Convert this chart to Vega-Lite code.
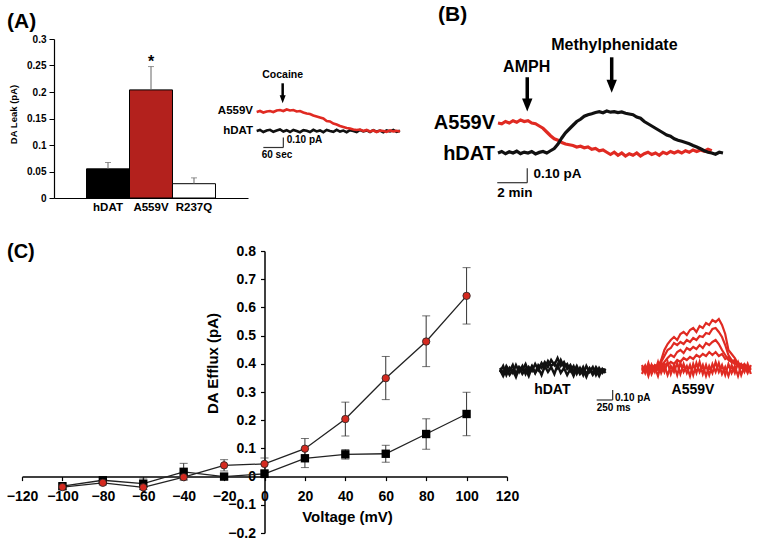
{
  "$schema": "https://vega.github.io/schema/vega-lite/v6.json",
  "autosize": {"type": "none"},
  "padding": {"left": 22, "top": 39, "right": 739, "bottom": 513},
  "background": "white",
  "bounds": "flush",
  "spacing": 212,
  "datasets": {
    "leak": [
      {"strain": "hDAT", "leak": 0.055, "hi": 0.067},
      {"strain": "A559V", "leak": 0.204, "hi": 0.248},
      {"strain": "R237Q", "leak": 0.027, "hi": 0.038}
    ],
    "a2k": [
      {"t":0,"v":0.0},{"t":10,"v":0.01},{"t":20,"v":-0.01},{"t":30,"v":0.005},{"t":40,"v":0.012},{"t":50,"v":-0.008},{"t":60,"v":0.004},{"t":70,"v":0.015},{"t":80,"v":-0.005},{"t":90,"v":0.008},
      {"t":100,"v":-0.01},{"t":110,"v":0.01},{"t":120,"v":0.0},{"t":130,"v":-0.012},{"t":140,"v":0.008},{"t":150,"v":0.002},{"t":160,"v":-0.01},{"t":170,"v":0.012},{"t":180,"v":-0.004},{"t":190,"v":0.006},
      {"t":200,"v":-0.012},{"t":210,"v":0.01},{"t":220,"v":0.0},{"t":230,"v":-0.008},{"t":240,"v":0.012},{"t":250,"v":-0.006},{"t":260,"v":0.004},{"t":270,"v":-0.012},{"t":280,"v":0.008},{"t":290,"v":0.0},
      {"t":300,"v":-0.01},{"t":310,"v":0.01},{"t":320,"v":-0.004},{"t":330,"v":0.006},{"t":340,"v":-0.01},{"t":350,"v":0.008},{"t":360,"v":-0.006},{"t":370,"v":0.004},{"t":380,"v":-0.012},{"t":390,"v":0.006},
      {"t":400,"v":-0.004},{"t":410,"v":0.01},{"t":420,"v":-0.008},{"t":430,"v":0.002}
    ],
    "a2r": [
      {"t":0,"v":0.19},{"t":10,"v":0.2},{"t":20,"v":0.185},{"t":30,"v":0.195},{"t":40,"v":0.2},{"t":50,"v":0.19},{"t":60,"v":0.205},{"t":70,"v":0.21},{"t":80,"v":0.2},{"t":90,"v":0.215},
      {"t":100,"v":0.205},{"t":110,"v":0.21},{"t":120,"v":0.195},{"t":130,"v":0.2},{"t":140,"v":0.185},{"t":150,"v":0.175},{"t":160,"v":0.17},{"t":170,"v":0.155},{"t":180,"v":0.145},{"t":190,"v":0.135},
      {"t":200,"v":0.125},{"t":210,"v":0.1},{"t":220,"v":0.095},{"t":230,"v":0.075},{"t":240,"v":0.065},{"t":250,"v":0.05},{"t":260,"v":0.04},{"t":270,"v":0.03},{"t":280,"v":0.025},{"t":290,"v":0.015},
      {"t":300,"v":0.01},{"t":310,"v":0.015},{"t":320,"v":0.0},{"t":330,"v":0.01},{"t":340,"v":-0.005},{"t":350,"v":0.005},{"t":360,"v":-0.01},{"t":370,"v":0.005},{"t":380,"v":0.0},{"t":390,"v":-0.008},
      {"t":400,"v":0.006},{"t":410,"v":-0.004},{"t":420,"v":0.002},{"t":430,"v":-0.006}
    ],
    "a2bar": [
      {"t":20,"t2":80,"v":-0.165,"v2":-0.165},
      {"t":80,"t2":80,"v":-0.165,"v2":-0.065}
    ],
    "a2arrow": [{"t":78,"v":0.477,"v2":0.317}],
    "a2txt": [
      {"t":-11,"v":0.2,"txt":"A559V","role":"label"},
      {"t":-11,"v":0.0,"txt":"hDAT","role":"label"},
      {"t":78,"v":0.56,"txt":"Cocaine","role":"drug"},
      {"t":90,"v":-0.09,"txt":"0.10 pA","role":"scale"},
      {"t":15,"v":-0.24,"txt":"60 sec","role":"scale"}
    ],
    "bk": [
      {"t":0,"v":0.0},{"t":0.25,"v":0.01},{"t":0.5,"v":-0.005},{"t":0.75,"v":0.008},{"t":1.0,"v":0.0},{"t":1.25,"v":0.012},{"t":1.5,"v":-0.004},{"t":1.75,"v":0.006},
      {"t":2.0,"v":0.0},{"t":2.25,"v":0.01},{"t":2.5,"v":-0.006},{"t":2.75,"v":0.004},{"t":3.0,"v":0.01},{"t":3.25,"v":0.0},{"t":3.5,"v":0.015},{"t":3.75,"v":0.03},
      {"t":4.0,"v":0.06},{"t":4.25,"v":0.1},{"t":4.5,"v":0.135},{"t":4.75,"v":0.16},{"t":5.0,"v":0.185},{"t":5.25,"v":0.21},{"t":5.5,"v":0.225},{"t":5.75,"v":0.245},
      {"t":6.0,"v":0.255},{"t":6.25,"v":0.262},{"t":6.5,"v":0.27},{"t":6.75,"v":0.275},{"t":7.0,"v":0.268},{"t":7.25,"v":0.28},{"t":7.5,"v":0.272},{"t":7.75,"v":0.276},
      {"t":8.0,"v":0.27},{"t":8.25,"v":0.274},{"t":8.5,"v":0.265},{"t":8.75,"v":0.26},{"t":9.0,"v":0.255},{"t":9.25,"v":0.24},{"t":9.5,"v":0.232},{"t":9.75,"v":0.21},
      {"t":10.0,"v":0.195},{"t":10.25,"v":0.18},{"t":10.5,"v":0.165},{"t":10.75,"v":0.15},{"t":11.0,"v":0.135},{"t":11.25,"v":0.12},{"t":11.5,"v":0.112},{"t":11.75,"v":0.095},
      {"t":12.0,"v":0.085},{"t":12.25,"v":0.078},{"t":12.5,"v":0.07},{"t":12.75,"v":0.062},{"t":13.0,"v":0.05},{"t":13.25,"v":0.04},{"t":13.5,"v":0.028},{"t":13.75,"v":0.015},
      {"t":14.0,"v":0.005},{"t":14.25,"v":0.0},{"t":14.5,"v":-0.008},{"t":14.75,"v":0.005},{"t":15.0,"v":0.0}
    ],
    "br": [
      {"t":0,"v":0.2},{"t":0.25,"v":0.195},{"t":0.5,"v":0.21},{"t":0.75,"v":0.2},{"t":1.0,"v":0.215},{"t":1.25,"v":0.205},{"t":1.5,"v":0.22},{"t":1.75,"v":0.21},
      {"t":2.0,"v":0.215},{"t":2.25,"v":0.2},{"t":2.5,"v":0.195},{"t":2.75,"v":0.18},{"t":3.0,"v":0.165},{"t":3.25,"v":0.14},{"t":3.5,"v":0.115},{"t":3.75,"v":0.095},
      {"t":4.0,"v":0.085},{"t":4.25,"v":0.07},{"t":4.5,"v":0.06},{"t":4.75,"v":0.055},{"t":5.0,"v":0.05},{"t":5.25,"v":0.04},{"t":5.5,"v":0.045},{"t":5.75,"v":0.035},
      {"t":6.0,"v":0.04},{"t":6.25,"v":0.025},{"t":6.5,"v":0.03},{"t":6.75,"v":0.015},{"t":7.0,"v":0.02},{"t":7.25,"v":0.005},{"t":7.5,"v":-0.01},{"t":7.75,"v":0.005},
      {"t":8.0,"v":-0.015},{"t":8.25,"v":0.0},{"t":8.5,"v":-0.02},{"t":8.75,"v":-0.005},{"t":9.0,"v":-0.015},{"t":9.25,"v":0.0},{"t":9.5,"v":-0.02},{"t":9.75,"v":-0.005},
      {"t":10.0,"v":0.005},{"t":10.25,"v":-0.01},{"t":10.5,"v":0.0},{"t":10.75,"v":-0.015},{"t":11.0,"v":0.005},{"t":11.25,"v":-0.005},{"t":11.5,"v":0.01},{"t":11.75,"v":0.0},
      {"t":12.0,"v":0.012},{"t":12.25,"v":0.0},{"t":12.5,"v":0.015},{"t":12.75,"v":0.005},{"t":13.0,"v":0.02},{"t":13.25,"v":0.01},{"t":13.5,"v":0.02},{"t":13.75,"v":0.012},
      {"t":14.0,"v":0.025},{"t":14.25,"v":0.015}
    ],
    "bbar": [
      {"t":-0.05,"t2":1.95,"v":-0.198,"v2":-0.198},
      {"t":1.95,"t2":1.95,"v":-0.198,"v2":-0.102}
    ],
    "barrow": [
      {"t":1.95,"v":0.505,"v2":0.32},
      {"t":7.58,"v":0.638,"v2":0.445}
    ],
    "btxt": [
      {"t":-0.2,"v":0.198,"txt":"A559V","role":"label"},
      {"t":-0.2,"v":-0.007,"txt":"hDAT","role":"label"},
      {"t":1.91,"v":0.575,"txt":"AMPH","role":"drug"},
      {"t":7.76,"v":0.72,"txt":"Methylphenidate","role":"drug"},
      {"t":2.36,"v":-0.14,"txt":"0.10 pA","role":"scale"},
      {"t":-0.05,"v":-0.265,"txt":"2 min","role":"scale"}
    ],
    "iv": [
      {"strain":"hDAT","mV":-100,"mean":-0.034,"lo":-0.044,"hi":-0.024},
      {"strain":"hDAT","mV":-80,"mean":-0.013,"lo":-0.023,"hi":-0.003},
      {"strain":"hDAT","mV":-60,"mean":-0.025,"lo":-0.045,"hi":-0.005},
      {"strain":"hDAT","mV":-40,"mean":0.017,"lo":-0.013,"hi":0.047},
      {"strain":"hDAT","mV":-20,"mean":0.0,"lo":-0.01,"hi":0.01},
      {"strain":"hDAT","mV":0,"mean":0.01,"lo":0.0,"hi":0.02},
      {"strain":"hDAT","mV":20,"mean":0.065,"lo":0.032,"hi":0.098},
      {"strain":"hDAT","mV":40,"mean":0.079,"lo":0.062,"hi":0.096},
      {"strain":"hDAT","mV":60,"mean":0.081,"lo":0.051,"hi":0.111},
      {"strain":"hDAT","mV":80,"mean":0.151,"lo":0.097,"hi":0.205},
      {"strain":"hDAT","mV":100,"mean":0.222,"lo":0.145,"hi":0.299},
      {"strain":"A559V","mV":-100,"mean":-0.037,"lo":-0.045,"hi":-0.029},
      {"strain":"A559V","mV":-80,"mean":-0.022,"lo":-0.03,"hi":-0.014},
      {"strain":"A559V","mV":-60,"mean":-0.038,"lo":-0.046,"hi":-0.03},
      {"strain":"A559V","mV":-40,"mean":-0.002,"lo":-0.01,"hi":0.006},
      {"strain":"A559V","mV":-20,"mean":0.04,"lo":0.02,"hi":0.06},
      {"strain":"A559V","mV":0,"mean":0.045,"lo":0.025,"hi":0.066},
      {"strain":"A559V","mV":20,"mean":0.099,"lo":0.063,"hi":0.135},
      {"strain":"A559V","mV":40,"mean":0.204,"lo":0.144,"hi":0.264},
      {"strain":"A559V","mV":60,"mean":0.349,"lo":0.273,"hi":0.426},
      {"strain":"A559V","mV":80,"mean":0.479,"lo":0.39,"hi":0.57},
      {"strain":"A559V","mV":100,"mean":0.641,"lo":0.541,"hi":0.741}
    ],
    "ih": [
      {"s":1,"t":0,"v":0.02},{"s":1,"t":50,"v":-0.03},{"s":1,"t":100,"v":0.04},{"s":1,"t":150,"v":-0.01},{"s":1,"t":200,"v":0.05},{"s":1,"t":250,"v":-0.04},{"s":1,"t":300,"v":0.03},{"s":1,"t":350,"v":0.0},{"s":1,"t":400,"v":0.06},{"s":1,"t":450,"v":-0.02},
      {"s":1,"t":500,"v":0.04},{"s":1,"t":550,"v":-0.03},{"s":1,"t":600,"v":0.05},{"s":1,"t":650,"v":0.02},{"s":1,"t":700,"v":0.08},{"s":1,"t":750,"v":0.03},{"s":1,"t":800,"v":0.1},{"s":1,"t":850,"v":0.05},{"s":1,"t":900,"v":0.12},{"s":1,"t":950,"v":0.04},
      {"s":1,"t":1000,"v":0.08},{"s":1,"t":1050,"v":0.01},{"s":1,"t":1100,"v":0.05},{"s":1,"t":1150,"v":-0.02},{"s":1,"t":1200,"v":0.04},{"s":1,"t":1250,"v":-0.03},{"s":1,"t":1300,"v":0.03},{"s":1,"t":1350,"v":-0.04},{"s":1,"t":1400,"v":0.02},{"s":1,"t":1450,"v":-0.03},
      {"s":1,"t":1500,"v":0.03},{"s":1,"t":1550,"v":-0.02},{"s":1,"t":1600,"v":0.01},{"s":1,"t":1650,"v":0.0},
      {"s":2,"t":0,"v":-0.02},{"s":2,"t":50,"v":0.04},{"s":2,"t":100,"v":-0.05},{"s":2,"t":150,"v":0.02},{"s":2,"t":200,"v":-0.03},{"s":2,"t":250,"v":0.05},{"s":2,"t":300,"v":-0.02},{"s":2,"t":350,"v":0.04},{"s":2,"t":400,"v":-0.04},{"s":2,"t":450,"v":0.03},
      {"s":2,"t":500,"v":-0.01},{"s":2,"t":550,"v":0.06},{"s":2,"t":600,"v":0.0},{"s":2,"t":650,"v":0.07},{"s":2,"t":700,"v":0.02},{"s":2,"t":750,"v":0.09},{"s":2,"t":800,"v":0.04},{"s":2,"t":850,"v":0.07},{"s":2,"t":900,"v":0.02},{"s":2,"t":950,"v":0.1},
      {"s":2,"t":1000,"v":0.03},{"s":2,"t":1050,"v":0.06},{"s":2,"t":1100,"v":-0.01},{"s":2,"t":1150,"v":0.04},{"s":2,"t":1200,"v":-0.04},{"s":2,"t":1250,"v":0.02},{"s":2,"t":1300,"v":-0.05},{"s":2,"t":1350,"v":0.04},{"s":2,"t":1400,"v":-0.02},{"s":2,"t":1450,"v":0.03},
      {"s":2,"t":1500,"v":-0.05},{"s":2,"t":1550,"v":0.02},{"s":2,"t":1600,"v":-0.03},{"s":2,"t":1650,"v":0.01},
      {"s":3,"t":0,"v":0.0},{"s":3,"t":50,"v":-0.06},{"s":3,"t":100,"v":0.01},{"s":3,"t":150,"v":-0.05},{"s":3,"t":200,"v":0.0},{"s":3,"t":250,"v":-0.07},{"s":3,"t":300,"v":0.02},{"s":3,"t":350,"v":-0.04},{"s":3,"t":400,"v":0.01},{"s":3,"t":450,"v":-0.06},
      {"s":3,"t":500,"v":0.03},{"s":3,"t":550,"v":-0.03},{"s":3,"t":600,"v":0.02},{"s":3,"t":650,"v":-0.05},{"s":3,"t":700,"v":0.04},{"s":3,"t":750,"v":-0.02},{"s":3,"t":800,"v":0.03},{"s":3,"t":850,"v":-0.04},{"s":3,"t":900,"v":0.05},{"s":3,"t":950,"v":-0.03},
      {"s":3,"t":1000,"v":0.02},{"s":3,"t":1050,"v":-0.05},{"s":3,"t":1100,"v":0.01},{"s":3,"t":1150,"v":-0.06},{"s":3,"t":1200,"v":0.02},{"s":3,"t":1250,"v":-0.04},{"s":3,"t":1300,"v":0.0},{"s":3,"t":1350,"v":-0.07},{"s":3,"t":1400,"v":0.01},{"s":3,"t":1450,"v":-0.05},
      {"s":3,"t":1500,"v":0.0},{"s":3,"t":1550,"v":-0.06},{"s":3,"t":1600,"v":0.01},{"s":3,"t":1650,"v":-0.03}
    ],
    "ia": [
      {"s":1,"t":0,"v":0.02},{"s":1,"t":50,"v":-0.02},{"s":1,"t":100,"v":0.04},{"s":1,"t":150,"v":0.0},{"s":1,"t":200,"v":0.05},{"s":1,"t":250,"v":0.03},{"s":1,"t":300,"v":0.1},{"s":1,"t":350,"v":0.2},{"s":1,"t":400,"v":0.26},{"s":1,"t":450,"v":0.3},
      {"s":1,"t":500,"v":0.33},{"s":1,"t":550,"v":0.3},{"s":1,"t":600,"v":0.36},{"s":1,"t":650,"v":0.38},{"s":1,"t":700,"v":0.35},{"s":1,"t":750,"v":0.4},{"s":1,"t":800,"v":0.42},{"s":1,"t":850,"v":0.38},{"s":1,"t":900,"v":0.44},{"s":1,"t":950,"v":0.42},
      {"s":1,"t":1000,"v":0.47},{"s":1,"t":1050,"v":0.45},{"s":1,"t":1100,"v":0.5},{"s":1,"t":1150,"v":0.48},{"s":1,"t":1200,"v":0.51},{"s":1,"t":1250,"v":0.45},{"s":1,"t":1300,"v":0.36},{"s":1,"t":1350,"v":0.2},{"s":1,"t":1400,"v":0.16},{"s":1,"t":1450,"v":0.12},
      {"s":1,"t":1500,"v":0.06},{"s":1,"t":1550,"v":0.02},{"s":1,"t":1600,"v":0.05},{"s":1,"t":1650,"v":0.0},{"s":1,"t":1700,"v":0.02},
      {"s":2,"t":0,"v":-0.01},{"s":2,"t":50,"v":0.03},{"s":2,"t":100,"v":0.0},{"s":2,"t":150,"v":0.04},{"s":2,"t":200,"v":0.02},{"s":2,"t":250,"v":0.05},{"s":2,"t":300,"v":0.08},{"s":2,"t":350,"v":0.14},{"s":2,"t":400,"v":0.2},{"s":2,"t":450,"v":0.22},
      {"s":2,"t":500,"v":0.27},{"s":2,"t":550,"v":0.25},{"s":2,"t":600,"v":0.28},{"s":2,"t":650,"v":0.26},{"s":2,"t":700,"v":0.3},{"s":2,"t":750,"v":0.28},{"s":2,"t":800,"v":0.32},{"s":2,"t":850,"v":0.3},{"s":2,"t":900,"v":0.34},{"s":2,"t":950,"v":0.33},
      {"s":2,"t":1000,"v":0.37},{"s":2,"t":1050,"v":0.36},{"s":2,"t":1100,"v":0.41},{"s":2,"t":1150,"v":0.42},{"s":2,"t":1200,"v":0.38},{"s":2,"t":1250,"v":0.33},{"s":2,"t":1300,"v":0.25},{"s":2,"t":1350,"v":0.15},{"s":2,"t":1400,"v":0.1},{"s":2,"t":1450,"v":0.08},
      {"s":2,"t":1500,"v":0.04},{"s":2,"t":1550,"v":0.06},{"s":2,"t":1600,"v":0.02},{"s":2,"t":1650,"v":0.04},{"s":2,"t":1700,"v":0.0},
      {"s":3,"t":0,"v":0.03},{"s":3,"t":50,"v":-0.01},{"s":3,"t":100,"v":0.05},{"s":3,"t":150,"v":0.01},{"s":3,"t":200,"v":0.04},{"s":3,"t":250,"v":0.0},{"s":3,"t":300,"v":0.05},{"s":3,"t":350,"v":0.08},{"s":3,"t":400,"v":0.12},{"s":3,"t":450,"v":0.15},
      {"s":3,"t":500,"v":0.13},{"s":3,"t":550,"v":0.18},{"s":3,"t":600,"v":0.2},{"s":3,"t":650,"v":0.17},{"s":3,"t":700,"v":0.22},{"s":3,"t":750,"v":0.2},{"s":3,"t":800,"v":0.23},{"s":3,"t":850,"v":0.21},{"s":3,"t":900,"v":0.25},{"s":3,"t":950,"v":0.22},
      {"s":3,"t":1000,"v":0.27},{"s":3,"t":1050,"v":0.25},{"s":3,"t":1100,"v":0.28},{"s":3,"t":1150,"v":0.3},{"s":3,"t":1200,"v":0.26},{"s":3,"t":1250,"v":0.2},{"s":3,"t":1300,"v":0.15},{"s":3,"t":1350,"v":0.1},{"s":3,"t":1400,"v":0.08},{"s":3,"t":1450,"v":0.1},
      {"s":3,"t":1500,"v":0.05},{"s":3,"t":1550,"v":0.03},{"s":3,"t":1600,"v":0.06},{"s":3,"t":1650,"v":0.01},{"s":3,"t":1700,"v":0.03},
      {"s":4,"t":0,"v":0.0},{"s":4,"t":50,"v":0.04},{"s":4,"t":100,"v":-0.01},{"s":4,"t":150,"v":0.05},{"s":4,"t":200,"v":0.02},{"s":4,"t":250,"v":0.04},{"s":4,"t":300,"v":0.01},{"s":4,"t":350,"v":0.06},{"s":4,"t":400,"v":0.05},{"s":4,"t":450,"v":0.08},
      {"s":4,"t":500,"v":0.06},{"s":4,"t":550,"v":0.1},{"s":4,"t":600,"v":0.08},{"s":4,"t":650,"v":0.12},{"s":4,"t":700,"v":0.1},{"s":4,"t":750,"v":0.13},{"s":4,"t":800,"v":0.11},{"s":4,"t":850,"v":0.15},{"s":4,"t":900,"v":0.13},{"s":4,"t":950,"v":0.16},
      {"s":4,"t":1000,"v":0.14},{"s":4,"t":1050,"v":0.18},{"s":4,"t":1100,"v":0.15},{"s":4,"t":1150,"v":0.18},{"s":4,"t":1200,"v":0.14},{"s":4,"t":1250,"v":0.16},{"s":4,"t":1300,"v":0.11},{"s":4,"t":1350,"v":0.13},{"s":4,"t":1400,"v":0.08},{"s":4,"t":1450,"v":0.06},
      {"s":4,"t":1500,"v":0.08},{"s":4,"t":1550,"v":0.03},{"s":4,"t":1600,"v":0.05},{"s":4,"t":1650,"v":0.0},{"s":4,"t":1700,"v":0.02},
      {"s":5,"t":0,"v":0.05},{"s":5,"t":50,"v":-0.03},{"s":5,"t":100,"v":0.07},{"s":5,"t":150,"v":-0.04},{"s":5,"t":200,"v":0.03},{"s":5,"t":250,"v":-0.06},{"s":5,"t":300,"v":0.06},{"s":5,"t":350,"v":-0.02},{"s":5,"t":400,"v":0.08},{"s":5,"t":450,"v":-0.04},
      {"s":5,"t":500,"v":0.05},{"s":5,"t":550,"v":-0.05},{"s":5,"t":600,"v":0.07},{"s":5,"t":650,"v":-0.02},{"s":5,"t":700,"v":0.04},{"s":5,"t":750,"v":-0.06},{"s":5,"t":800,"v":0.06},{"s":5,"t":850,"v":-0.03},{"s":5,"t":900,"v":0.08},{"s":5,"t":950,"v":-0.04},
      {"s":5,"t":1000,"v":0.05},{"s":5,"t":1050,"v":-0.05},{"s":5,"t":1100,"v":0.06},{"s":5,"t":1150,"v":-0.02},{"s":5,"t":1200,"v":0.07},{"s":5,"t":1250,"v":-0.04},{"s":5,"t":1300,"v":0.03},{"s":5,"t":1350,"v":-0.06},{"s":5,"t":1400,"v":0.05},{"s":5,"t":1450,"v":-0.03},
      {"s":5,"t":1500,"v":0.07},{"s":5,"t":1550,"v":-0.05},{"s":5,"t":1600,"v":0.04},{"s":5,"t":1650,"v":-0.03},{"s":5,"t":1700,"v":0.05},
      {"s":6,"t":0,"v":-0.04},{"s":6,"t":50,"v":0.04},{"s":6,"t":100,"v":-0.06},{"s":6,"t":150,"v":0.05},{"s":6,"t":200,"v":-0.02},{"s":6,"t":250,"v":0.08},{"s":6,"t":300,"v":-0.03},{"s":6,"t":350,"v":0.05},{"s":6,"t":400,"v":-0.05},{"s":6,"t":450,"v":0.04},
      {"s":6,"t":500,"v":-0.02},{"s":6,"t":550,"v":0.07},{"s":6,"t":600,"v":-0.04},{"s":6,"t":650,"v":0.06},{"s":6,"t":700,"v":-0.03},{"s":6,"t":750,"v":0.05},{"s":6,"t":800,"v":-0.05},{"s":6,"t":850,"v":0.07},{"s":6,"t":900,"v":-0.02},{"s":6,"t":950,"v":0.05},
      {"s":6,"t":1000,"v":-0.06},{"s":6,"t":1050,"v":0.04},{"s":6,"t":1100,"v":-0.03},{"s":6,"t":1150,"v":0.08},{"s":6,"t":1200,"v":-0.02},{"s":6,"t":1250,"v":0.05},{"s":6,"t":1300,"v":-0.05},{"s":6,"t":1350,"v":0.06},{"s":6,"t":1400,"v":-0.03},{"s":6,"t":1450,"v":0.04},
      {"s":6,"t":1500,"v":-0.06},{"s":6,"t":1550,"v":0.05},{"s":6,"t":1600,"v":-0.02},{"s":6,"t":1650,"v":0.06},{"s":6,"t":1700,"v":-0.04}
    ],
    "ihbar": [
      {"t":1511,"t2":1761,"v":-0.3,"v2":-0.3},
      {"t":1761,"t2":1761,"v":-0.3,"v2":-0.2}
    ],
    "ihtxt": [
      {"t":818,"v":-0.2,"txt":"hDAT","role":"label"},
      {"t":1797,"v":-0.277,"txt":"0.10 pA","role":"scale"},
      {"t":1511,"v":-0.383,"txt":"250 ms","role":"scale"}
    ],
    "iatxt": [
      {"t":797,"v":-0.2,"txt":"A559V","role":"label"}
    ]
  },
  "vconcat": [
    {
      "hconcat": [
        {
          "width": 32, "height": 159,
          "title": {"text": "(A)", "fontSize": 21, "dx": -15, "offset": 7},
          "data": {"values": [{"s": ""}]},
          "mark": {"type": "text"},
          "encoding": {"text": {"field": "s"}}
        },
        {
          "width": 194, "height": 159,
          "data": {"name": "leak"},
          "encoding": {
            "x": {"field": "strain", "type": "nominal", "sort": null,
              "scale": {"paddingInner": 0, "paddingOuter": 0.756, "align": 0.5},
              "axis": {"title": null, "labelAngle": 0, "ticks": false, "tickSize": 0, "labelPadding": 3, "labelFontSize": 11.5, "domainWidth": 1.2}},
            "y": {"field": "leak", "type": "quantitative",
              "scale": {"domain": [0, 0.3], "nice": false, "zero": false},
              "axis": {"values": [0, 0.05, 0.1, 0.15, 0.2, 0.25, 0.3], "format": "~g", "labelFontSize": 10, "tickSize": 5, "labelPadding": 3,
                "title": "DA Leak (pA)", "titleFontSize": 9.5, "titleX": -41, "titleY": 75, "titleBaseline": "middle", "titleAlign": "center", "titleAngle": 270, "domainWidth": 1.2}}
          },
          "layer": [
            {"mark": {"type": "bar", "stroke": "#000", "strokeWidth": 1},
              "encoding": {"fill": {"field": "strain", "type": "nominal", "scale": {"domain": ["hDAT", "A559V", "R237Q"], "range": ["#000000", "#b3211d", "#ffffff"]}, "legend": null}}},
            {"mark": {"type": "rule", "color": "#666", "strokeWidth": 1},
              "encoding": {"y2": {"field": "hi"}}},
            {"mark": {"type": "tick", "color": "#666", "size": 6, "thickness": 1},
              "encoding": {"y": {"field": "hi", "type": "quantitative", "scale": {"domain": [0, 0.3], "nice": false, "zero": false}}}},
            {"transform": [{"filter": "datum.strain === 'A559V'"}],
              "mark": {"type": "text", "text": "*", "fontSize": 16, "baseline": "middle"},
              "encoding": {"y": {"datum": 0.257, "type": "quantitative", "scale": {"domain": [0, 0.3], "nice": false, "zero": false}}}}
          ]
        },
        {
          "width": 175, "height": 159,
          "encoding": {
            "x": {"field": "t", "type": "quantitative", "scale": {"domain": [-26, 499], "nice": false, "zero": false}, "axis": null},
            "y": {"field": "v", "type": "quantitative", "scale": {"domain": [-0.67, 0.92], "nice": false, "zero": false}, "axis": null}
          },
          "layer": [
            {"data": {"name": "a2k"}, "mark": {"type": "line", "color": "#111", "strokeWidth": 2.6}},
            {"data": {"name": "a2r"}, "mark": {"type": "line", "color": "#e02a22", "strokeWidth": 2.6}},
            {"data": {"name": "a2bar"}, "mark": {"type": "rule", "color": "#333", "strokeWidth": 1.2},
              "encoding": {"x2": {"field": "t2"}, "y2": {"field": "v2"}}},
            {"data": {"name": "a2arrow"}, "mark": {"type": "rule", "color": "#000", "strokeWidth": 2.5},
              "encoding": {"y2": {"field": "v2"}}},
            {"data": {"name": "a2arrow"}, "mark": {"type": "point", "shape": "M -0.75 -1 L 0.75 -1 L 0 1 Z", "size": 64, "filled": true, "color": "#000", "opacity": 1},
              "encoding": {"y": {"field": "v2", "type": "quantitative", "scale": {"domain": [-0.67, 0.92], "nice": false, "zero": false}, "axis": null}}},
            {"data": {"name": "a2txt"}, "transform": [{"filter": "datum.role === 'label'"}],
              "mark": {"type": "text", "align": "right", "baseline": "middle", "fontSize": 11.5}, "encoding": {"text": {"field": "txt"}}},
            {"data": {"name": "a2txt"}, "transform": [{"filter": "datum.role === 'drug'"}],
              "mark": {"type": "text", "align": "center", "baseline": "middle", "fontSize": 10.5}, "encoding": {"text": {"field": "txt"}}},
            {"data": {"name": "a2txt"}, "transform": [{"filter": "datum.role === 'scale'"}],
              "mark": {"type": "text", "align": "left", "baseline": "middle", "fontSize": 10}, "encoding": {"text": {"field": "txt"}}}
          ]
        },
        {
          "width": 315, "height": 159,
          "title": {"text": "(B)", "fontSize": 21, "dx": 15, "offset": 12},
          "encoding": {
            "x": {"field": "t", "type": "quantitative", "scale": {"domain": [-5, 16], "nice": false, "zero": false}, "axis": null},
            "y": {"field": "v", "type": "quantitative", "scale": {"domain": [-0.3, 0.76], "nice": false, "zero": false}, "axis": null}
          },
          "layer": [
            {"data": {"name": "br"}, "mark": {"type": "line", "color": "#e02a22", "strokeWidth": 3.2}},
            {"data": {"name": "bk"}, "mark": {"type": "line", "color": "#111", "strokeWidth": 3.2}},
            {"data": {"name": "bbar"}, "mark": {"type": "rule", "color": "#333", "strokeWidth": 1.2},
              "encoding": {"x2": {"field": "t2"}, "y2": {"field": "v2"}}},
            {"data": {"name": "barrow"}, "mark": {"type": "rule", "color": "#000", "strokeWidth": 3.5},
              "encoding": {"y2": {"field": "v2"}}},
            {"data": {"name": "barrow"}, "mark": {"type": "point", "shape": "M -0.8 -1 L 0.8 -1 L 0 1 Z", "size": 169, "filled": true, "color": "#000", "opacity": 1},
              "encoding": {"y": {"field": "v2", "type": "quantitative", "scale": {"domain": [-0.3, 0.76], "nice": false, "zero": false}, "axis": null}}},
            {"data": {"name": "btxt"}, "transform": [{"filter": "datum.role === 'label'"}],
              "mark": {"type": "text", "align": "right", "baseline": "middle", "fontSize": 20}, "encoding": {"text": {"field": "txt"}}},
            {"data": {"name": "btxt"}, "transform": [{"filter": "datum.role === 'drug'"}],
              "mark": {"type": "text", "align": "center", "baseline": "middle", "fontSize": 16}, "encoding": {"text": {"field": "txt"}}},
            {"data": {"name": "btxt"}, "transform": [{"filter": "datum.role === 'scale'"}],
              "mark": {"type": "text", "align": "left", "baseline": "middle", "fontSize": 13.5}, "encoding": {"text": {"field": "txt"}}}
          ]
        }
      ],
      "bounds": "flush",
      "spacing": 0
    },
    {
      "hconcat": [
        {
          "width": 485, "height": 282,
          "title": {"text": "(C)", "fontSize": 20, "dx": -15, "offset": -18},
          "data": {"name": "iv"},
          "encoding": {
            "x": {"field": "mV", "type": "quantitative", "scale": {"domain": [-120, 120], "nice": false, "zero": false},
              "axis": {"values": [-120, -100, -80, -60, -40, -20, 0, 20, 40, 60, 80, 100, 120], "offset": -56.4, "tickSize": 4, "labelPadding": 9, "labelFontSize": 14, "domainWidth": 1.5, "tickWidth": 1.2,
                "title": "Voltage (mV)", "titleFontSize": 15, "titleX": 325, "titleY": 40, "titleBaseline": "middle", "titleAlign": "center"}},
            "y": {"field": "mean", "type": "quantitative", "scale": {"domain": [-0.2, 0.8], "nice": false, "zero": false},
              "axis": {"values": [-0.2, -0.1, 0, 0.1, 0.2, 0.3, 0.4, 0.5, 0.6, 0.7, 0.8], "format": "~g", "offset": -242.5, "tickSize": 4, "labelPadding": 5, "labelFontSize": 14, "domainWidth": 1.5, "tickWidth": 1.2,
                "title": "DA Efflux (pA)", "titleFontSize": 15, "titleX": -52.5, "titleY": 112, "titleAngle": 270, "titleBaseline": "middle", "titleAlign": "center"}}
          },
          "layer": [
            {"mark": {"type": "rule", "color": "#333", "strokeWidth": 1},
              "encoding": {"y": {"field": "lo", "type": "quantitative", "scale": {"domain": [-0.2, 0.8], "nice": false, "zero": false}}, "y2": {"field": "hi"}}},
            {"mark": {"type": "tick", "orient": "horizontal", "color": "#333", "size": 8, "thickness": 1},
              "encoding": {"y": {"field": "hi", "type": "quantitative", "scale": {"domain": [-0.2, 0.8], "nice": false, "zero": false}}}},
            {"mark": {"type": "tick", "orient": "horizontal", "color": "#333", "size": 8, "thickness": 1},
              "encoding": {"y": {"field": "lo", "type": "quantitative", "scale": {"domain": [-0.2, 0.8], "nice": false, "zero": false}}}},
            {"mark": {"type": "line", "color": "#222", "strokeWidth": 1.3},
              "encoding": {"detail": {"field": "strain"}}},
            {"transform": [{"filter": "datum.strain === 'hDAT'"}],
              "mark": {"type": "square", "filled": true, "color": "#000", "size": 70, "opacity": 1}},
            {"transform": [{"filter": "datum.strain === 'A559V'"}],
              "mark": {"type": "circle", "fill": "#d42a20", "stroke": "#222", "strokeWidth": 0.8, "size": 55, "opacity": 1}}
          ]
        },
        {
          "width": 133, "height": 170,
          "encoding": {
            "x": {"field": "t", "type": "quantitative", "scale": {"domain": [110, 2188], "nice": false, "zero": false}, "axis": null},
            "y": {"field": "v", "type": "quantitative", "scale": {"domain": [-0.51, 1.19], "nice": false, "zero": false}, "axis": null}
          },
          "layer": [
            {"data": {"name": "ih"}, "mark": {"type": "line", "color": "#111", "strokeWidth": 2.4}, "encoding": {"detail": {"field": "s"}}},
            {"data": {"name": "ihbar"}, "mark": {"type": "rule", "color": "#333", "strokeWidth": 1.2},
              "encoding": {"x2": {"field": "t2"}, "y2": {"field": "v2"}}},
            {"data": {"name": "ihtxt"}, "transform": [{"filter": "datum.role === 'label'"}],
              "mark": {"type": "text", "align": "center", "baseline": "middle", "fontSize": 14}, "encoding": {"text": {"field": "txt"}}},
            {"data": {"name": "ihtxt"}, "transform": [{"filter": "datum.role === 'scale'"}],
              "mark": {"type": "text", "align": "left", "baseline": "middle", "fontSize": 10}, "encoding": {"text": {"field": "txt"}}}
          ]
        },
        {
          "width": 110, "height": 170,
          "encoding": {
            "x": {"field": "t", "type": "quantitative", "scale": {"domain": [-31, 1687], "nice": false, "zero": false}, "axis": null},
            "y": {"field": "v", "type": "quantitative", "scale": {"domain": [-0.51, 1.19], "nice": false, "zero": false}, "axis": null}
          },
          "layer": [
            {"data": {"name": "ia"}, "mark": {"type": "line", "color": "#e02a22", "strokeWidth": 2.2}, "encoding": {"detail": {"field": "s"}}},
            {"data": {"name": "iatxt"}, "mark": {"type": "text", "align": "center", "baseline": "middle", "fontSize": 14}, "encoding": {"text": {"field": "txt"}}}
          ]
        }
      ],
      "bounds": "flush",
      "spacing": 0
    }
  ],
  "config": {
    "view": {"stroke": null},
    "font": "Liberation Sans",
    "axis": {"grid": false, "labelFont": "Liberation Sans", "titleFont": "Liberation Sans", "labelFontWeight": "bold", "titleFontWeight": "bold",
      "labelColor": "#000", "titleColor": "#000", "domainColor": "#000", "tickColor": "#000", "labelFlush": false, "labelOverlap": false},
    "text": {"font": "Liberation Sans", "fontWeight": "bold", "color": "#000"},
    "title": {"font": "Liberation Sans", "fontWeight": "bold", "color": "#000", "anchor": "start", "frame": "group"}
  }
}
